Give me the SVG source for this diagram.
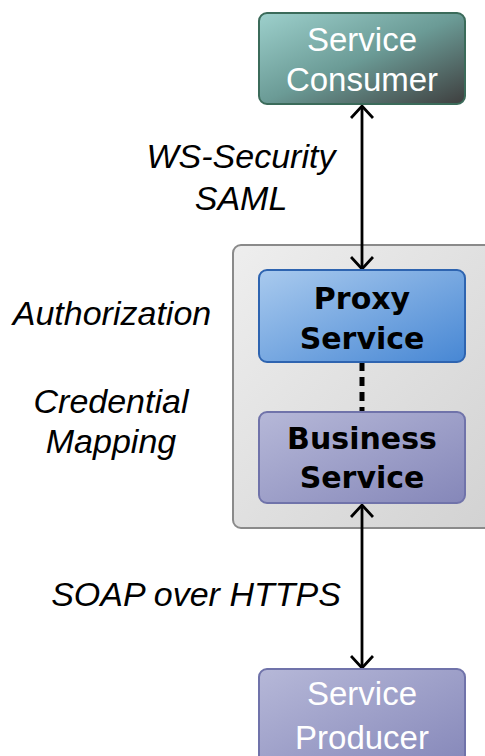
<svg xmlns="http://www.w3.org/2000/svg" width="485" height="756" viewBox="0 0 485 756">
<defs>
<linearGradient id="gCons" x1="0" y1="0" x2="1" y2="1">
<stop offset="0" stop-color="#9dd0cc"/>
<stop offset="0.5" stop-color="#6b9b96"/>
<stop offset="1" stop-color="#3e3e3e"/>
</linearGradient>
<linearGradient id="gProxy" x1="0" y1="0" x2="1" y2="1">
<stop offset="0" stop-color="#a9caee"/>
<stop offset="1" stop-color="#4787d4"/>
</linearGradient>
<linearGradient id="gBiz" x1="0" y1="0" x2="1" y2="1">
<stop offset="0" stop-color="#b6b8d8"/>
<stop offset="1" stop-color="#8587b9"/>
</linearGradient>
<linearGradient id="gCont" x1="0" y1="0" x2="1" y2="1">
<stop offset="0" stop-color="#eeeeee"/>
<stop offset="1" stop-color="#d2d2d2"/>
</linearGradient>
<marker id="ah" viewBox="0 0 24 24" refX="21" refY="12" markerWidth="24" markerHeight="24" markerUnits="userSpaceOnUse" orient="auto-start-reverse">
<path d="M9,1 L21,12 L9,23" fill="none" stroke="#000" stroke-width="2.8"/>
</marker>
</defs>
<style>
.lbl{font-family:"Liberation Sans",Arial,sans-serif;font-style:italic;font-size:34px;fill:#000;text-anchor:middle}
.wt{font-family:"Liberation Sans",Arial,sans-serif;font-size:33px;fill:#fff;text-anchor:middle}
.bt{font-family:"DejaVu Sans",Verdana,sans-serif;font-weight:bold;font-size:30px;fill:#000;text-anchor:middle}
.conn{stroke:#000;stroke-width:2.8;fill:none}
</style>
<g id="container">
<rect x="233" y="245" width="262" height="283" rx="8" fill="url(#gCont)" stroke="#8a8a8a" stroke-width="2"/>
</g>
<g id="labels">
<text class="lbl" x="241" y="168">WS-Security</text>
<text class="lbl" x="241" y="210">SAML</text>
<text class="lbl" x="112" y="325">Authorization</text>
<text class="lbl" x="111" y="413">Credential</text>
<text class="lbl" x="111" y="453">Mapping</text>
<text class="lbl" x="196" y="606">SOAP over HTTPS</text>
</g>
<g id="connectors">
<line class="conn" x1="362" y1="106" x2="362" y2="269" marker-start="url(#ah)" marker-end="url(#ah)"/>
<line class="conn" x1="362" y1="505" x2="362" y2="668" marker-start="url(#ah)" marker-end="url(#ah)"/>
<line x1="362" y1="362" x2="362" y2="412" stroke="#000" stroke-width="5" stroke-dasharray="9,6"/>
</g>
<g id="consumer">
<rect x="259" y="13" width="206" height="91" rx="8" fill="url(#gCons)" stroke="#3b6b5a" stroke-width="2"/>
<text class="wt" x="362" y="51">Service</text>
<text class="wt" x="362" y="91">Consumer</text>
</g>
<g id="proxy">
<rect x="259" y="270" width="206" height="92" rx="8" fill="url(#gProxy)" stroke="#2e64b0" stroke-width="2"/>
<text class="bt" x="362" y="309">Proxy</text>
<text class="bt" x="362" y="349">Service</text>
</g>
<g id="business">
<rect x="259" y="412" width="206" height="91" rx="8" fill="url(#gBiz)" stroke="#7073aa" stroke-width="2"/>
<text class="bt" x="362" y="449">Business</text>
<text class="bt" x="362" y="488">Service</text>
</g>
<g id="producer">
<rect x="259" y="669" width="206" height="100" rx="8" fill="url(#gBiz)" stroke="#7073aa" stroke-width="2"/>
<text class="wt" x="362" y="705">Service</text>
<text class="wt" x="362" y="749">Producer</text>
</g>
</svg>
